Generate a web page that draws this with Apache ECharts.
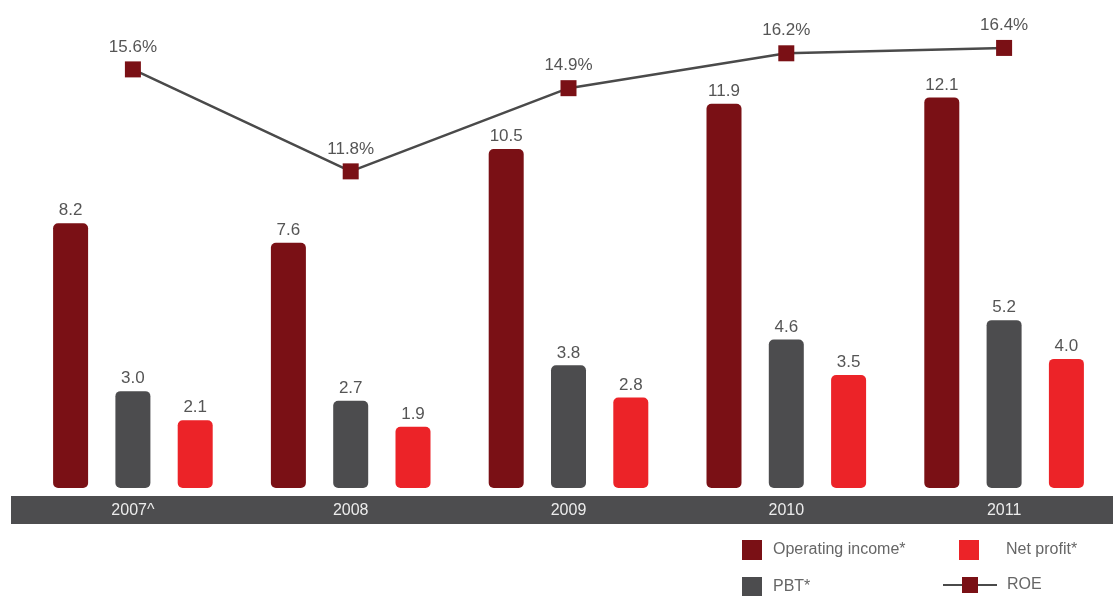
<!DOCTYPE html>
<html>
<head>
<meta charset="utf-8">
<script src="https://cdn.jsdelivr.net/npm/echarts@6/dist/echarts.min.js"></script>
<style>
  html, body { margin: 0; padding: 0; background: #fff; }
  #chart { width: 1113px; height: 596px; }
</style>
</head>
<body>
<div id="chart"></div>
<script>
var years = ['2007^', '2008', '2009', '2010', '2011'];
var operatingIncome = [8.2, 7.6, 10.5, 11.9, 12.1];
var pbt = [3.0, 2.7, 3.8, 4.6, 5.2];
var netProfit = [2.1, 1.9, 2.8, 3.5, 4.0];
var roe = [15.6, 11.8, 14.9, 16.2, 16.4];

var font = '"Liberation Sans", Arial, sans-serif';
var barLabel = {
  show: true,
  position: 'top',
  distance: 4,
  color: '#555',
  fontSize: 17,
  fontFamily: font,
  formatter: function (p) { return p.value.toFixed(1); }
};
function legendText(padLeft) {
  return { color: '#666', fontSize: 16, fontFamily: font, padding: [2, 0, 0, padLeft] };
}

var myChart = echarts.init(document.getElementById('chart'));
var option = {
  animation: false,
  textStyle: { fontFamily: font },
  grid: { left: 24, top: 38, right: 0, bottom: 108, containLabel: false },
  graphic: [{
    type: 'rect',
    z: -10,
    shape: { x: 11, y: 496, width: 1102, height: 28 },
    style: { fill: '#4d4d4f' }
  }],
  legend: [
    {
      data: ['Operating income*'], left: 742, top: 540, padding: 0,
      itemWidth: 20, itemHeight: 20, icon: 'rect', textStyle: legendText(6)
    },
    {
      data: ['Net profit*'], left: 959, top: 540, padding: 0,
      itemWidth: 20, itemHeight: 20, icon: 'rect', textStyle: legendText(22)
    },
    {
      data: ['PBT*'], left: 742, top: 577, padding: 0,
      itemWidth: 20, itemHeight: 20, icon: 'rect', textStyle: legendText(6)
    },
    {
      data: ['ROE'], left: 942, top: 577, padding: 0,
      itemWidth: 54, itemHeight: 20, textStyle: legendText(5)
    }
  ],
  xAxis: {
    type: 'category',
    data: years,
    axisLine: { show: false },
    axisTick: { show: false },
    axisLabel: { color: '#ececec', fontSize: 16, fontFamily: font, margin: 15 },
    z: 10
  },
  yAxis: [
    { type: 'value', min: 0, max: 13.94, show: false, splitLine: { show: false } },
    { type: 'value', min: 0, max: 16.77, show: false, splitLine: { show: false } }
  ],
  series: [
    {
      name: 'Operating income*', type: 'bar', data: operatingIncome,
      barWidth: 35, barGap: '78%',
      itemStyle: { color: '#7a1015', borderRadius: 5 },
      label: barLabel
    },
    {
      name: 'PBT*', type: 'bar', data: pbt,
      barWidth: 35, barGap: '78%',
      itemStyle: { color: '#4c4c4e', borderRadius: 5 },
      label: barLabel
    },
    {
      name: 'Net profit*', type: 'bar', data: netProfit,
      barWidth: 35, barGap: '78%',
      itemStyle: { color: '#ec2328', borderRadius: 5 },
      label: barLabel
    },
    {
      name: 'ROE', type: 'line', yAxisIndex: 1, data: roe,
      symbol: 'rect', symbolSize: 16,
      lineStyle: { color: '#4a4a4a', width: 2.5 },
      itemStyle: { color: '#7a1015' },
      label: {
        show: true, position: 'top', distance: 6,
        color: '#555', fontSize: 17, fontFamily: font,
        formatter: function (p) { return p.value.toFixed(1) + '%'; }
      },
      z: 5
    }
  ]
};
myChart.setOption(option);
window.addEventListener('resize', function () { myChart.resize(); });
</script>
</body>
</html>
